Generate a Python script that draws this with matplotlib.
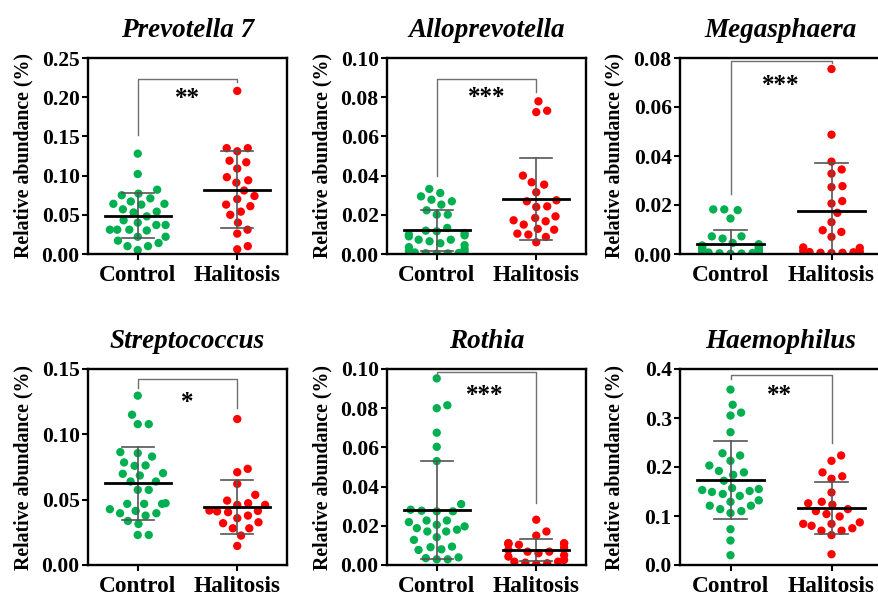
import numpy as np
import matplotlib
matplotlib.use("Agg")
from matplotlib import pyplot as plt
from matplotlib.ticker import FormatStrFormatter

plt.rcParams['font.family'] = ['Liberation Serif', 'DejaVu Serif']
plt.rcParams['font.weight'] = 'bold'

groups = ["Control", "Halitosis"]
titles = ["Prevotella 7", "Alloprevotella", "Megasphaera",
          "Streptococcus", "Rothia", "Haemophilus"]
stars = ["**", "***", "***", "*", "***", "**"]

# relative abundance values
prevotella_ctrl = [0.128, 0.102, 0.077, 0.082, 0.075, 0.071, 0.067, 0.064, 0.063, 0.064,
                   0.057, 0.054, 0.053, 0.048, 0.040, 0.043, 0.031, 0.030, 0.037, 0.037,
                   0.031, 0.031, 0.017, 0.022, 0.022, 0.014, 0.010, 0.010, 0.005]
prevotella_hali = [0.208, 0.135, 0.135, 0.131, 0.117, 0.119, 0.109, 0.098, 0.094, 0.091,
                   0.081, 0.074, 0.070, 0.061, 0.063, 0.054, 0.050, 0.040, 0.031, 0.026,
                   0.006, 0.010]
allo_ctrl = [0.0332, 0.0311, 0.0294, 0.0277, 0.0269, 0.0252, 0.0223, 0.0201, 0.0201, 0.0133,
             0.0119, 0.0107, 0.0116, 0.0099, 0.0095, 0.0090, 0.0073, 0.0073, 0.0065, 0.0055,
             0.0045, 0.0035, 0.0025, 0.0015, 0.0012, 0.0008, 0.0005, 0.0004, 0.0003, 0.0002]
allo_hali = [0.0731, 0.0724, 0.0779, 0.0400, 0.0354, 0.0366, 0.0315, 0.0274, 0.0269, 0.0243,
             0.0240, 0.0192, 0.0172, 0.0184, 0.0150, 0.0124, 0.0128, 0.0167, 0.0099, 0.0104,
             0.0087, 0.0060]
mega_ctrl = [0.0182, 0.0179, 0.0182, 0.0145, 0.0072, 0.0063, 0.0072,
             0.0045, 0.0040, 0.0035, 0.0030, 0.0027, 0.0024, 0.0021, 0.0018, 0.0015,
             0.0012, 0.0010, 0.0008, 0.0006, 0.0004, 0.0003, 0.0002, 0.0001]
mega_hali = [0.0755, 0.0487, 0.0377, 0.0345, 0.0328, 0.0273, 0.0277, 0.0216, 0.0206, 0.0168,
             0.0130, 0.0090, 0.0097, 0.0070, 0.0025, 0.0027, 0.0012, 0.0008, 0.0005, 0.0004,
             0.0005, 0.0007, 0.0010]
strep_ctrl = [0.1296, 0.1150, 0.1078, 0.1078, 0.0864, 0.0830, 0.0856, 0.0785, 0.0762, 0.0759,
              0.0703, 0.0698, 0.0685, 0.0639, 0.0639, 0.0575, 0.0575, 0.0473, 0.0468, 0.0468,
              0.0468, 0.0414, 0.0396, 0.0378, 0.0427, 0.0396, 0.0337, 0.0314, 0.0230, 0.0230]
strep_hali = [0.1117, 0.0736, 0.0710, 0.0621, 0.0493, 0.0537, 0.0460, 0.0473, 0.0417, 0.0410,
              0.0460, 0.0378, 0.0404, 0.0414, 0.0358, 0.0320, 0.0327, 0.0281, 0.0281, 0.0225,
              0.0146]
rothia_ctrl = [0.0952, 0.0800, 0.0815, 0.0675, 0.0603, 0.0530, 0.0311, 0.0277, 0.0274, 0.0274,
               0.0282, 0.0227, 0.0227, 0.0219, 0.0205, 0.0188, 0.0171, 0.0171, 0.0180, 0.0197,
               0.0142, 0.0128, 0.0080, 0.0094, 0.0091, 0.0077, 0.0039, 0.0029, 0.0029, 0.0035]
rothia_hali = [0.0231, 0.0171, 0.0150, 0.0111, 0.0110, 0.0089, 0.0106, 0.0103, 0.0111, 0.0111,
               0.0050, 0.0043, 0.0068, 0.0077, 0.0068, 0.0060, 0.0017, 0.0009, 0.0005, 0.0012,
               0.0017, 0.0026]
haemo_ctrl = [0.358, 0.327, 0.305, 0.311, 0.271, 0.228, 0.2235, 0.203, 0.2126, 0.189,
              0.184, 0.192, 0.172, 0.157, 0.155, 0.151, 0.153, 0.145, 0.149, 0.141,
              0.132, 0.129, 0.121, 0.114, 0.121, 0.110, 0.106, 0.073, 0.050, 0.020]
haemo_hali = [0.2235, 0.2126, 0.181, 0.176, 0.189, 0.148, 0.129, 0.123, 0.126, 0.114,
              0.110, 0.104, 0.099, 0.087, 0.084, 0.084, 0.080, 0.075, 0.070, 0.070,
              0.061, 0.022]

ctrl_values = [prevotella_ctrl, allo_ctrl, mega_ctrl, strep_ctrl, rothia_ctrl, haemo_ctrl]
hali_values = [prevotella_hali, allo_hali, mega_hali, strep_hali, rothia_hali, haemo_hali]

# mean and SD as drawn in the figure
ctrl_mean = [0.049, 0.012, 0.0042, 0.0625, 0.028, 0.173]
ctrl_sd = [0.029, 0.0103, 0.0055, 0.028, 0.025, 0.080]
hali_mean = [0.082, 0.028, 0.0177, 0.0445, 0.0078, 0.116]
hali_sd = [0.049, 0.021, 0.0193, 0.0207, 0.0057, 0.0525]

y_max = [0.25, 0.10, 0.08, 0.15, 0.10, 0.4]
y_step = [0.05, 0.02, 0.02, 0.05, 0.02, 0.1]
y_decimals = [2, 2, 2, 2, 2, 1]

# significance bracket: left leg start, top, right leg end, star height
brackets = [(0.152, 0.2236, 0.220, 0.206),
            (0.0396, 0.0895, 0.0825, 0.083),
            (0.0243, 0.0789, 0.0778, 0.0714),
            (0.1354, 0.1423, 0.1201, 0.129),
            (0.0965, 0.0986, 0.0316, 0.0897),
            (0.380, 0.388, 0.249, 0.358)]

green = "#00b050"
red = "#ff0000"
W, H = 879, 596


def swarm(ypix, diam, maxw):
    order = np.argsort(ypix)
    placed = []
    xs = np.zeros(len(ypix))
    for i in order:
        y = ypix[i]
        near = [(px, py) for px, py in placed if abs(py - y) < diam]
        cands = [0.0]
        for px, py in near:
            dx = np.sqrt(diam ** 2 - (py - y) ** 2)
            cands += [px + dx, px - dx]
        cands.sort(key=abs)
        best = cands[-1]
        for c in cands:
            if all((c - px) ** 2 + (y - py) ** 2 >= diam ** 2 - 1e-6 for px, py in near):
                best = c
                break
        if abs(best) > maxw:
            best = np.sign(best) * maxw
        xs[i] = best
        placed.append((best, y))
    return xs


fig = plt.figure(figsize=(W / 100, H / 100), dpi=100)

lefts = [88, 387, 680]
widths = [199, 199, 202]
tops = [58, 369]
ax_h = 196

for k in range(6):
    r, c = divmod(k, 3)
    ax = fig.add_axes([lefts[c] / W, 1 - (tops[r] + ax_h) / H, widths[c] / W, ax_h / H])
    ax.set_xlim(-0.5, 1.5)
    ax.set_ylim(0, y_max[k])
    ax.set_yticks(np.arange(0, y_max[k] + 1e-9, y_step[k]))
    ax.yaxis.set_major_formatter(FormatStrFormatter("%%.%df" % y_decimals[k]))
    ax.set_xticks([0, 1])
    ax.set_xticklabels(groups, fontsize=16.8, fontweight="bold")
    ax.tick_params(axis="y", labelsize=15.5, length=4, width=1.5, pad=2)
    ax.tick_params(axis="x", length=4, width=1.5, pad=4)
    for s in ax.spines.values():
        s.set_linewidth(1.7)
    ax.set_title(titles[k], fontsize=19.5, fontweight="bold", style="italic", pad=15)
    ax.set_ylabel("Relative abundance (%)", fontsize=14.3, fontweight="bold")
    ax.yaxis.set_label_coords(-0.275, 0.5)

    ppu = ax.transData.transform((1, 0))[0] - ax.transData.transform((0, 0))[0]
    for g, (vals, col, m, sd) in enumerate([(ctrl_values[k], green, ctrl_mean[k], ctrl_sd[k]),
                                            (hali_values[k], red, hali_mean[k], hali_sd[k])]):
        vals = np.array(vals)
        ypix = ax.transData.transform(np.column_stack([np.zeros(len(vals)), vals]))[:, 1]
        xs = g + swarm(ypix, 11.0, 0.28 * ppu) / ppu
        ax.scatter(xs, vals, s=36, color=col, edgecolors="none", zorder=2)
        ax.plot([g - 0.33, g + 0.33], [m, m], color="black", lw=2, zorder=4)
        ax.plot([g, g], [m - sd, m + sd], color="#555555", lw=1.2, zorder=3)
        for yy in (m - sd, m + sd):
            ax.plot([g - 0.16, g + 0.16], [yy, yy], color="#555555", lw=1.2, zorder=3)

    b0, btop, b1, sy = brackets[k]
    ax.plot([0, 0, 1, 1], [b0, btop, btop, b1], color="#707070", lw=1, zorder=3, clip_on=False)
    sx = 0.48 if k >= 4 else 0.5
    ax.annotate(stars[k], xy=(sx, sy), xytext=(0, -9), textcoords="offset points",
                ha="center", va="baseline", fontsize=18, fontweight="bold")

fig.savefig("out.png", dpi=100)
